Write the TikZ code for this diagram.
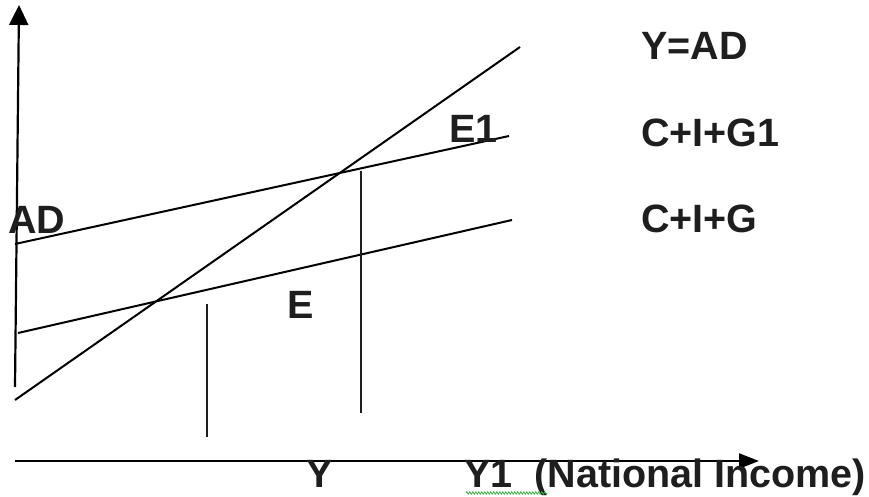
\documentclass[tikz,border=0pt]{standalone}
\usepackage{fontspec}
\setmainfont{Liberation Sans}
\usetikzlibrary{arrows.meta,decorations.pathmorphing}
\definecolor{ink}{HTML}{1E1E1E}
\definecolor{spell}{HTML}{3CB043}
\begin{document}
\begin{tikzpicture}[x=1pt,y=-1pt,
  lbl/.style={anchor=base west,inner sep=0pt,text=ink,font=\fontsize{39.5}{41}\selectfont\bfseries},
  axisline/.style={line width=2.2pt,draw=black},
  curve/.style={line width=2pt,draw=black},
  guide/.style={line width=2.2pt,draw=ink}]
\useasboundingbox (0,0) rectangle (869,497);
% axes
\coordinate (yb) at (15,387);
\coordinate (yt) at (19,5);
\coordinate (xl) at (15,461);
\coordinate (xr) at (759,461);
\draw[axisline,-{Triangle[width=19pt,length=20pt]}] (yb) -- (yt);
\draw[axisline,-{Triangle[width=15pt,length=20pt]}] (xl) -- (xr);
% lines
\coordinate (a1) at (15,400);  \coordinate (a2) at (520,47);
\coordinate (g1a) at (15,244); \coordinate (g1b) at (509,136);
\coordinate (ga) at (18,333);  \coordinate (gb) at (512,220);
\draw[curve] (a1) -- (a2);
\draw[curve] (g1a) -- (g1b);
\draw[curve] (ga) -- (gb);
% verticals
\coordinate (v1t) at (207,304); \coordinate (v1b) at (207,437);
\coordinate (v2t) at (361,171); \coordinate (v2b) at (361,413);
\draw[guide] (v1t) -- (v1b);
\draw[guide] (v2t) -- (v2b);
% labels
\node[lbl] (tYAD) at (641,60) {Y=AD};
\node[lbl] (tG1) at (641,147) {C+I+G1};
\node[lbl] (tG) at (641,232) {C+I+G};
\node[lbl] (tAD) at (8,233) {AD};
\node[lbl] (tE1) at (449,143) {E1};
\node[lbl] (tE) at (287,318) {E};
\node[lbl] (tY) at (306,487) {Y};
\node[lbl] (tY1) at (464,487) {Y1\ \ (National Income)};
% spell-check squiggle
\coordinate (s1) at (466,493); \coordinate (s2) at (547,493);
\draw[spell,line width=0.8pt,decorate,decoration={zigzag,amplitude=1.2pt,segment length=3pt}] (s1) -- (s2);
\end{tikzpicture}
\end{document}
